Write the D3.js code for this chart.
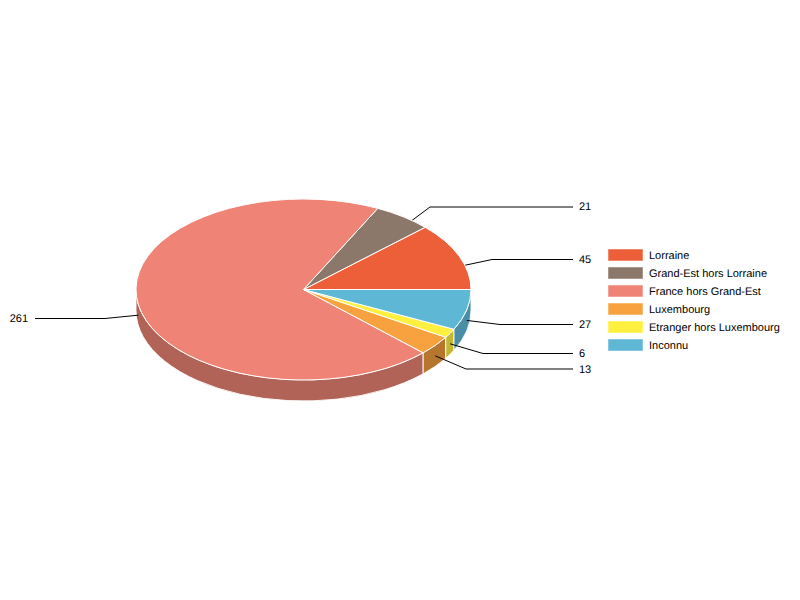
<!DOCTYPE html>
<html>
<head>
<meta charset="utf-8">
<script src="https://cdn.jsdelivr.net/npm/d3@7"></script>
<style>
  html, body { margin: 0; background: #fff; }
  text { font-family: "Liberation Sans", Arial, sans-serif; font-size: 11px; fill: #000; text-rendering: geometricPrecision; }
</style>
</head>
<body>
<svg id="chart" width="800" height="600"></svg>
<script>
const categories = ["Lorraine", "Grand-Est hors Lorraine", "France hors Grand-Est", "Luxembourg", "Etranger hors Luxembourg", "Inconnu"];
const values = [45, 21, 261, 13, 6, 27];
const colors = ["#ec5f38", "#8c786a", "#ef8375", "#f7a13f", "#ffef3f", "#5db7d5"];
const sideColors = ["#b14729", "#695a4f", "#b26358", "#b6762e", "#c4b62f", "#4a8ea6"];

// where each callout ends up, same order as categories
const lineY = [259.5, 207, 318.5, 369, 353.5, 324.5];
const textY = [259, 206, 318, 369, 353, 324];
const elbowX = [492, 430, 105, 466, 483, 500];

const cx = 303.5, cy = 289.5, rx = 167.5, ry = 90.5, depth = 21;
const labelRightX = 573, labelLeftX = 35;

const svg = d3.select("#chart");

const x = d3.scaleLinear().domain([-1, 1]).range([cx - rx, cx + rx]);
const y = d3.scaleLinear().domain([-1, 1]).range([cy - ry, cy + ry]);

// counter clockwise from 3 o'clock
const pie = d3.pie()
  .sort(null)
  .startAngle(Math.PI / 2)
  .endAngle(Math.PI / 2 - 2 * Math.PI);
const slices = pie(values).map((d, i) => ({ ...d, i }));

const px = (a) => x(Math.sin(a));
const py = (a) => y(-Math.cos(a));

// only the front half of the rim has a wall: PI/2 to -PI/2 going through PI
// slices here run from PI/2 down to -3PI/2, so the front is [-3PI/2, -PI/2] and [PI/2]
const walls = slices
  .map((d) => ({ i: d.i, s: Math.max(d.endAngle, -3 * Math.PI / 2), e: Math.min(d.startAngle, -Math.PI / 2) }))
  .filter((w) => w.e > w.s);

function wall(w) {
  const large = w.e - w.s > Math.PI ? 1 : 0;
  return `M${px(w.s)},${py(w.s)}` +
    `A${rx},${ry} 0 ${large} 1 ${px(w.e)},${py(w.e)}` +
    `L${px(w.e)},${py(w.e) + depth}` +
    `A${rx},${ry} 0 ${large} 0 ${px(w.s)},${py(w.s) + depth}Z`;
}

svg.append("g")
  .selectAll("path")
  .data(walls)
  .join("path")
  .attr("d", wall)
  .attr("fill", (d) => sideColors[d.i])
  .attr("stroke", "#fff")
  .attr("stroke-width", 1)
  .attr("stroke-opacity", 0.9);

// callouts sit over the walls but under the top face
const leader = d3.line();
const leaders = slices.map((d) => {
  const mid = (d.startAngle + d.endAngle) / 2;
  const sx = px(mid), sy = py(mid) + depth / 2;
  const left = sx < cx;
  return {
    i: d.i,
    left,
    pts: [[sx, sy], [elbowX[d.i], lineY[d.i]], [left ? labelLeftX : labelRightX, lineY[d.i]]]
  };
});

svg.append("g")
  .selectAll("path")
  .data(leaders)
  .join("path")
  .attr("d", (d) => leader(d.pts))
  .attr("fill", "none")
  .attr("stroke", "#000")
  .attr("stroke-width", 1);

const arc = d3.arc().innerRadius(0).outerRadius(rx);
svg.append("g")
  .attr("transform", `translate(${cx},${cy}) scale(1,${ry / rx})`)
  .selectAll("path")
  .data(slices)
  .join("path")
  .attr("d", arc)
  .attr("fill", (d) => colors[d.i])
  .attr("stroke", "#fff")
  .attr("stroke-width", 1)
  .attr("vector-effect", "non-scaling-stroke");

svg.append("g")
  .selectAll("text")
  .data(leaders)
  .join("text")
  .attr("x", (d) => (d.left ? labelLeftX - 7 : labelRightX + 6))
  .attr("y", (d) => textY[d.i])
  .attr("dy", "0.35em")
  .attr("text-anchor", (d) => (d.left ? "end" : "start"))
  .text((d) => values[d.i]);

// legend
const legendY = d3.scaleBand().domain(categories).range([246, 354]);
const legend = svg.append("g")
  .selectAll("g")
  .data(categories)
  .join("g")
  .attr("transform", (d) => `translate(608,${legendY(d)})`);

legend.append("rect")
  .attr("x", 0.5)
  .attr("y", 3.5)
  .attr("width", 34)
  .attr("height", 11)
  .attr("fill", (d, i) => colors[i])
  .attr("stroke", (d, i) => colors[i])
  .attr("stroke-opacity", 0.5);

legend.append("text")
  .attr("x", 41)
  .attr("y", 9)
  .attr("dy", "0.35em")
  .text((d) => d);
</script>
</body>
</html>
